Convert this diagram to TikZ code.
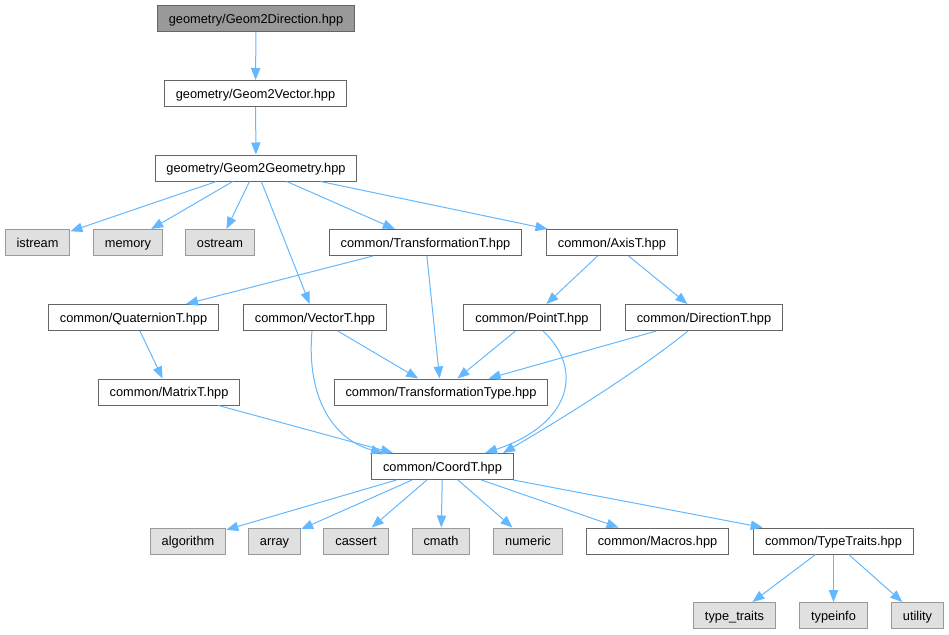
\documentclass[tikz,border=0pt]{standalone}
\usepackage{fontspec}
\setmainfont{Liberation Sans}
\usetikzlibrary{arrows.meta}
\definecolor{edgeblue}{HTML}{63B8FF}
\definecolor{boxline}{HTML}{666666}
\definecolor{sysline}{HTML}{999999}
\definecolor{sysfill}{HTML}{E0E0E0}
\definecolor{topfill}{HTML}{999999}
\tikzset{
  hdr/.style={draw=boxline, line width=0.75pt, fill=white, inner xsep=8.6pt, inner ysep=0pt,
    minimum height=19.5pt, text height=8.6pt, text depth=1.2pt, font=\fontsize{9.6}{11}\selectfont},
  syshdr/.style={hdr, draw=sysline, fill=sysfill},
  tophdr/.style={hdr, fill=topfill},
  dep/.style={draw=edgeblue, line width=0.75pt, -{Triangle[length=9pt,width=7pt]}},
}
\begin{document}
\begin{tikzpicture}[x=0.75pt,y=-0.75pt]
\useasboundingbox (0,0) rectangle (949,635);
% headers, one row after the other
\node[tophdr] (g2dir) at (256,18.5) {geometry/Geom2Direction.hpp};
\node[hdr] (g2vec) at (255.5,93.5) {geometry/Geom2Vector.hpp};
\node[hdr] (g2geo) at (256,168) {geometry/Geom2Geometry.hpp};
\node[syshdr] (istream) at (37.5,242.5) {istream};
\node[syshdr] (memory) at (128,242.5) {memory};
\node[syshdr] (ostream) at (220,242.5) {ostream};
\node[hdr] (transT) at (425.5,242.5) {common/TransformationT.hpp};
\node[hdr] (axisT) at (612,242.5) {common/AxisT.hpp};
\node[hdr] (quatT) at (133.5,317.5) {common/QuaternionT.hpp};
\node[hdr] (vecT) at (315,317.5) {common/VectorT.hpp};
\node[hdr] (pointT) at (532,317.5) {common/PointT.hpp};
\node[hdr] (dirT) at (704,317.5) {common/DirectionT.hpp};
\node[hdr] (matT) at (169,392) {common/MatrixT.hpp};
\node[hdr] (transType) at (441,392) {common/TransformationType.hpp};
\node[hdr] (coordT) at (442.5,466.5) {common/CoordT.hpp};
\node[syshdr] (algorithm) at (188,541) {algorithm};
\node[syshdr] (array) at (274.5,541) {array};
\node[syshdr] (cassert) at (356,541) {cassert};
\node[syshdr] (cmath) at (441,541) {cmath};
\node[syshdr] (numeric) at (528,541) {numeric};
\node[hdr] (macros) at (657.5,541) {common/Macros.hpp};
\node[hdr] (traits) at (833.5,541) {common/TypeTraits.hpp};
\node[syshdr] (typetraits) at (734.5,615.5) {type\_traits};
\node[syshdr] (typeinfo) at (833.5,615.5) {typeinfo};
\node[syshdr] (utility) at (917.5,615.5) {utility};
% include edges
\draw[dep] (g2dir) -- (g2vec);
\draw[dep] (g2vec) -- (g2geo);
\draw[dep] (g2geo) -- (istream);
\draw[dep] (g2geo) -- (memory);
\draw[dep] (g2geo) -- (ostream);
\draw[dep] (g2geo) -- (vecT);
\draw[dep] (g2geo) -- (transT);
\draw[dep] (g2geo) -- (axisT);
\draw[dep] (transT) -- (quatT);
\draw[dep] (transT) -- (transType);
\draw[dep] (axisT) -- (pointT);
\draw[dep] (axisT) -- (dirT);
\draw[dep] (quatT) -- (matT);
\draw[dep] (vecT) -- (transType);
\draw[dep] (pointT) -- (transType);
\draw[dep] (dirT) -- (transType);
\draw[dep] (matT) -- (coordT);
\draw[dep] ([xshift=-2.25pt]vecT.south) .. controls (306,400) and (335,440) .. ([xshift=-44.6pt]coordT.north);
\draw[dep] ([xshift=8.25pt]pointT.south) .. controls (585,370) and (570,425) .. ([xshift=31.9pt]coordT.north);
\draw[dep] ([xshift=-12pt]dirT.south) .. controls (640,370) and (560,420) .. ([xshift=45.4pt]coordT.north);
\draw[dep] (coordT) -- (algorithm);
\draw[dep] (coordT) -- (array);
\draw[dep] (coordT) -- (cassert);
\draw[dep] (coordT) -- (cmath);
\draw[dep] (coordT) -- (numeric);
\draw[dep] (coordT) -- (macros);
\draw[dep] (coordT) -- (traits);
\draw[dep] (traits) -- (typetraits);
\draw[dep] (traits) -- (typeinfo);
\draw[dep] (traits) -- (utility);
\end{tikzpicture}
\end{document}
